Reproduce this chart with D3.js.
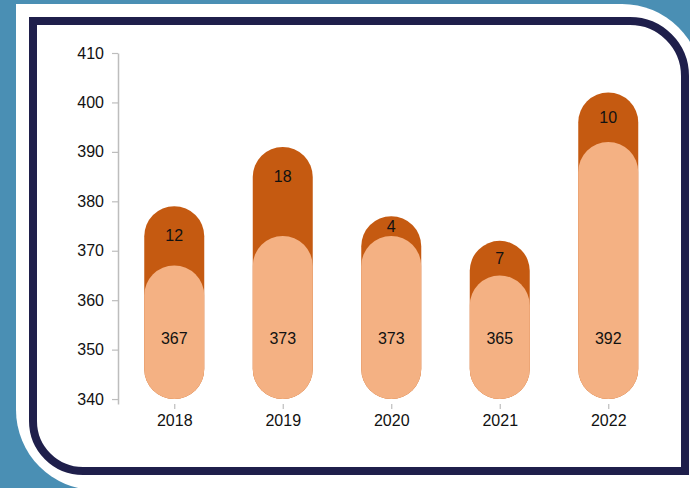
<!DOCTYPE html>
<html>
<head>
<meta charset="utf-8">
<script src="https://cdn.jsdelivr.net/npm/d3@7"></script>
<style>
  html, body { margin: 0; padding: 0; background: #4a8fb4; }
  svg { display: block; }
  text { font-family: "Liberation Sans", Arial, sans-serif; }
</style>
</head>
<body>
<svg id="chart" width="690" height="488"></svg>
<script>
// ---- data ----
const years = ["2018", "2019", "2020", "2021", "2022"];
const baseValues = [367, 373, 373, 365, 392];
const addedValues = [12, 18, 4, 7, 10];
const yTickValues = [340, 350, 360, 370, 380, 390, 400, 410];

// ---- layout ----
const W = 690, H = 488;
const FONT = "'Liberation Sans', Arial, sans-serif";
const FS = 16;
const svg = d3.select("#chart");

// background
svg.append("rect").attr("width", W).attr("height", H).attr("fill", "#4a8fb4");

// white card (square top-left, rounded top-right & bottom-left)
const wL = 16, wT = 4, wR = 702, wB = 490, wr = 80;
svg.append("path")
  .attr("d", `M${wL},${wT} H${wR - wr} A${wr},${wr} 0 0 1 ${wR},${wT + wr} V${wB} H${wL + wr} A${wr},${wr} 0 0 1 ${wL},${wB - wr} Z`)
  .attr("fill", "#ffffff");

// navy frame
const nL = 33, nT = 21, nR = 685, nB = 471, r1 = 55, r2 = 50;
svg.append("path")
  .attr("d", `M${nL},${nT} H${nR - r1} A${r1},${r1} 0 0 1 ${nR},${nT + r1} V${nB} H${nL + r2} A${r2},${r2} 0 0 1 ${nL},${nB - r2} Z`)
  .attr("fill", "#ffffff")
  .attr("stroke", "#1f1f4b")
  .attr("stroke-width", 8);

// ---- scales ----
const y = d3.scaleLinear().domain([339, 410]).range([404, 53]);
const x = d3.scalePoint().domain(years).range([120, 662.5]).padding(0.5);
const barW = 60;

// ---- y axis ----
const yAxis = svg.append("g")
  .attr("transform", "translate(118,0)")
  .call(d3.axisLeft(y).tickValues(yTickValues).tickSize(6).tickSizeOuter(0).tickPadding(8));
yAxis.select(".domain").attr("stroke", "#bdbdbd").attr("stroke-width", 1.5);
yAxis.selectAll(".tick line").attr("stroke", "#bdbdbd").attr("stroke-width", 1.2);
yAxis.selectAll(".tick text").attr("fill", "#111111").attr("font-size", FS)
  .attr("font-family", FONT);

// ---- x axis ----
const xAxis = svg.append("g")
  .attr("transform", `translate(0,${y(340) + 5})`)
  .call(d3.axisBottom(x).tickSize(5).tickSizeOuter(0).tickPadding(6));
xAxis.select(".domain").remove();
xAxis.selectAll(".tick line").attr("stroke", "#bdbdbd").attr("stroke-width", 1.2);
xAxis.selectAll(".tick text").attr("fill", "#111111").attr("font-size", FS)
  .attr("font-family", FONT);

// ---- bars ----
const rows = years.map((yr, i) => ({
  year: yr, base: baseValues[i], added: addedValues[i], total: baseValues[i] + addedValues[i]
}));
const y0 = y(340);

const g = svg.append("g");
g.selectAll("rect.total").data(rows).join("rect")
  .attr("class", "total")
  .attr("x", d => x(d.year) - barW / 2)
  .attr("y", d => y(d.total))
  .attr("width", barW)
  .attr("height", d => y0 - y(d.total))
  .attr("rx", barW / 2).attr("ry", barW / 2)
  .attr("fill", "#c55a11");

g.selectAll("rect.base").data(rows).join("rect")
  .attr("class", "base")
  .attr("x", d => x(d.year) - barW / 2)
  .attr("y", d => y(d.base))
  .attr("width", barW)
  .attr("height", d => y0 - y(d.base))
  .attr("rx", barW / 2).attr("ry", barW / 2)
  .attr("fill", "#f4b183");

// labels
g.selectAll("text.base").data(rows).join("text")
  .attr("class", "base")
  .attr("x", d => x(d.year))
  .attr("y", y0 - 61)
  .attr("text-anchor", "middle")
  .attr("dominant-baseline", "central")
  .attr("font-size", FS)
  .attr("fill", "#111111")
  .text(d => d.base);

g.selectAll("text.added").data(rows).join("text")
  .attr("class", "added")
  .attr("x", d => x(d.year))
  .attr("y", d => Math.min(y(d.total) + barW / 2, (y(d.total) + y(d.base)) / 2))
  .attr("text-anchor", "middle")
  .attr("dominant-baseline", "central")
  .attr("font-size", FS)
  .attr("fill", "#111111")
  .text(d => d.added);
</script>
</body>
</html>
